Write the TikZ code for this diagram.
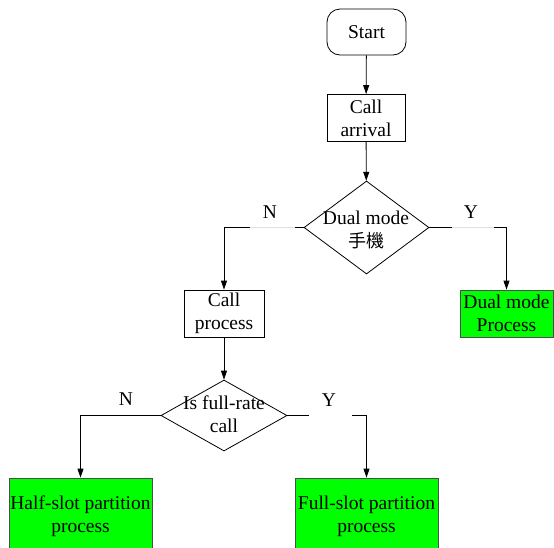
\documentclass[tikz,border=0pt]{standalone}
\usepackage{fontspec}
\setmainfont{Liberation Serif}
\newfontfamily\cjk{Noto Sans CJK TC}
\usetikzlibrary{shapes.geometric,arrows.meta}
\begin{document}
\begin{tikzpicture}[x=1pt,y=-1pt, line width=0.8pt,
  every node/.style={font=\fontsize{19.5}{23}\selectfont, inner sep=0pt, align=center},
  boxnode/.style={draw, minimum width=#1, minimum height=47pt},
  greenbox/.style={draw=black!70, fill=green!100!black, minimum width=#1},
  decision/.style={draw, diamond, aspect=1.34},
  arr/.style={-{Triangle[length=9pt,width=6pt]}},
  faint/.style={draw=black!12}
]
\useasboundingbox (0,0) rectangle (554,547);
\node[draw, rounded corners=13pt, minimum width=79pt, minimum height=46pt] (start) at (366.5,32) {Start};
\node[boxnode=78pt] (arrival) at (366,118) {Call\\arrival};
\node[decision, minimum width=125pt, minimum height=93pt] (dual) at (366.5,227.5) {};
\node at (366,230) {Dual mode\\{\cjk\fontsize{18}{19}\selectfont 手機}};
\node[boxnode=80pt] (cproc) at (224,313.5) {Call\\process};
\node[greenbox=93pt, minimum height=47pt] (dproc) at (506.5,313.5) {Dual mode\\Process};
\node[decision, minimum width=126pt, minimum height=71pt] (full) at (224,415.5) {};
\node at (224,414) {Is full-rate\\call};
\node[greenbox=143pt, minimum height=76pt] (half) at (80.5,516) {Half-slot partition\\process};
\node[greenbox=143pt, minimum height=76pt] (fslot) at (366.5,516) {Full-slot partition\\process};
\coordinate (d1) at (295,227.5);
\coordinate (d2) at (250,227.5);
\coordinate (e1) at (452,227.5);
\coordinate (e2) at (494,227.5);
\coordinate (f1) at (309,415.5);
\coordinate (f2) at (352,415.5);
\node (nl) at (270,212) {N};
\node (yl) at (471,212) {Y};
\node (nb) at (126,399) {N};
\node (yb) at (329,400) {Y};
\draw[arr] (start) -- (arrival);
\draw[arr] (arrival) -- (dual);
\draw (dual.west) -- (d1);
\draw[faint] (d1) -- (d2);
\draw[arr] (d2) -| (cproc.north);
\draw (dual.east) -- (e1);
\draw[faint] (e1) -- (e2);
\draw[arr] (e2) -| (dproc.north);
\draw[arr] (cproc) -- (full);
\draw[arr] (full.west) -| (half.north);
\draw (full.east) -- (f1);
\draw[arr] (f2) -| (fslot.north);
\end{tikzpicture}
\end{document}
